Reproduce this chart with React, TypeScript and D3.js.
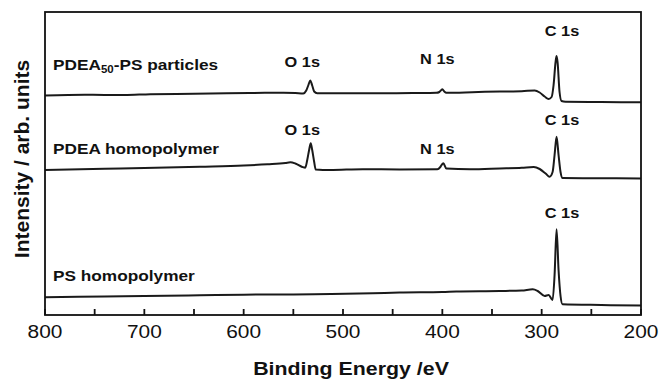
import React from "react";
import * as d3 from "d3";

// Binding energy (eV) and intensity (arb. units)
const psParticlesBE = [800, 760, 720, 694, 650, 594, 560, 548, 540, 537, 535, 533, 531, 529, 526, 500, 463, 430, 406, 403, 401, 400, 398, 396, 370, 342, 320, 307, 302, 297, 293, 290, 288, 286, 285, 284, 282, 280, 276, 240, 200];
const psParticlesI = [219.5, 220.2, 220.0, 220.8, 221.2, 222.0, 222.3, 222.0, 221.5, 224.5, 229.5, 234.5, 229.5, 223.5, 221.7, 221.8, 221.7, 222.0, 222.2, 223.0, 225.0, 225.7, 223.5, 222.3, 222.8, 223.5, 223.8, 224.5, 222.5, 218.5, 216.0, 218.0, 230.0, 253.0, 259.0, 253.0, 223.0, 214.0, 213.3, 213.0, 212.7];

const pdeaBE = [800, 740, 700, 644, 600, 576, 558, 553, 548, 541, 538, 536, 534, 532.5, 531, 529, 527.5, 513, 480, 443, 405, 402, 400, 399, 396, 372, 342, 320, 308, 302, 296, 292, 289, 287, 285, 283, 281, 279, 250, 200];
const pdeaI = [145.0, 146.3, 147.0, 148.3, 149.5, 150.7, 152.0, 152.7, 151.5, 148.0, 147.3, 155.0, 165.5, 171.7, 165.0, 153.0, 145.5, 145.0, 145.8, 145.5, 145.7, 148.0, 151.0, 151.7, 146.5, 145.7, 146.5, 147.2, 148.0, 146.0, 141.5, 138.3, 143.0, 160.0, 178.3, 160.0, 143.0, 137.0, 136.8, 136.5];

const psBE = [800, 740, 700, 644, 600, 550, 512, 470, 443, 400, 386, 342, 320, 309, 304, 297, 293, 289, 287, 285, 283, 281, 279, 240, 200];
const psI = [17.7, 18.5, 19.0, 19.7, 20.3, 20.6, 21.0, 21.8, 22.5, 23.0, 23.5, 24.0, 24.5, 25.7, 24.0, 19.0, 20.0, 15.0, 40.0, 85.7, 45.0, 19.0, 10.7, 10.0, 9.5];

const seriesNames = ["PDEA\u2085\u2080-PS particles", "PDEA homopolymer", "PS homopolymer"];

const xTicksMajor = [800, 700, 600, 500, 400, 300, 200];
const xTicksMinor = [750, 650, 550, 450, 350, 250];

// peak annotations: label, energy, intensity level of label baseline
const peakLabels = ["O 1s", "N 1s", "C 1s", "O 1s", "N 1s", "C 1s", "C 1s"];
const peakLabelBE = [541, 405, 279.5, 541, 405, 279.5, 279.5];
const peakLabelI = [248.3, 251, 279, 180, 161.5, 190, 97];

const sampleLabelI = [245, 161, 34.3];

const W = 662;
const H = 380;
const M = { left: 45, right: 21, top: 12, bottom: 65 };
const FONT = "'Liberation Sans', Arial, Helvetica, sans-serif";

function SText(props: {
  x: number; y: number; sx: number; size: number; anchor?: string; bold?: boolean; children: React.ReactNode;
}) {
  const { x, y, sx, size, anchor, bold, children } = props;
  return (
    <g transform={`translate(${x},${y}) scale(${sx},1)`}>
      <text
        x={0}
        y={0}
        fontFamily={FONT}
        fontSize={size}
        fontWeight={bold ? "bold" : "normal"}
        textAnchor={anchor || "start"}
        fill="#111"
      >
        {children}
      </text>
    </g>
  );
}

export default function App() {
  const x = d3.scaleLinear().domain([800, 200]).range([M.left, W - M.right]);
  const y = d3.scaleLinear().domain([0, 303]).range([H - M.bottom, M.top]);

  const mk = (be: number[], iv: number[]) =>
    d3
      .line<number>()
      .x((_, i) => x(be[i]))
      .y((d) => y(d))
      .curve(d3.curveMonotoneX)(iv) || "";

  const paths = [mk(psParticlesBE, psParticlesI), mk(pdeaBE, pdeaI), mk(psBE, psI)];

  const x0 = x(800);
  const x1 = x(200);
  const y0 = y(0);
  const y1 = y(303);

  return (
    <svg
      width={W}
      height={H}
      style={{ position: "absolute", left: 0, top: 0, background: "#fff" }}
    >
      <rect x={0} y={0} width={W} height={H} fill="#fff" />
      {paths.map((p, i) => (
        <path key={i} d={p} fill="none" stroke="#1a1a1a" strokeWidth={2} strokeLinejoin="round" />
      ))}
      {/* frame */}
      <rect x={x0} y={y1} width={x1 - x0} height={y0 - y1} fill="none" stroke="#111" strokeWidth={1.8} />
      {xTicksMajor.map((t) => (
        <line key={"M" + t} x1={x(t)} x2={x(t)} y1={y0} y2={y0 - 6} stroke="#111" strokeWidth={1.8} />
      ))}
      {xTicksMinor.map((t) => (
        <line key={"m" + t} x1={x(t)} x2={x(t)} y1={y0} y2={y0 - 6} stroke="#111" strokeWidth={1.8} />
      ))}
      {xTicksMajor.map((t) => (
        <SText key={"l" + t} x={x(t)} y={338.3} sx={1.13} size={18.5} anchor="middle">
          {t}
        </SText>
      ))}
      <SText x={351} y={375} sx={1.155} size={18.5} anchor="middle" bold>
        Binding Energy /eV
      </SText>
      <g transform={`translate(28.5,159) rotate(-90)`}>
        <text x={0} y={0} fontFamily={FONT} fontSize={21} fontWeight="bold" textAnchor="middle" fill="#111">
          Intensity / arb. units
        </text>
      </g>
      {/* sample labels */}
      <SText x={53} y={y(sampleLabelI[0])} sx={1.15} size={15} bold>
        <tspan>PDEA</tspan>
        <tspan fontSize={10} dy={3}>50</tspan>
        <tspan dy={-3}>-PS particles</tspan>
      </SText>
      <SText x={53} y={y(sampleLabelI[1])} sx={1.15} size={15} bold>
        {seriesNames[1]}
      </SText>
      <SText x={53} y={y(sampleLabelI[2])} sx={1.15} size={15} bold>
        {seriesNames[2]}
      </SText>
      {peakLabels.map((l, i) => (
        <SText key={"p" + i} x={x(peakLabelBE[i])} y={y(peakLabelI[i])} sx={1.09} size={15} anchor="middle" bold>
          {l}
        </SText>
      ))}
    </svg>
  );
}
